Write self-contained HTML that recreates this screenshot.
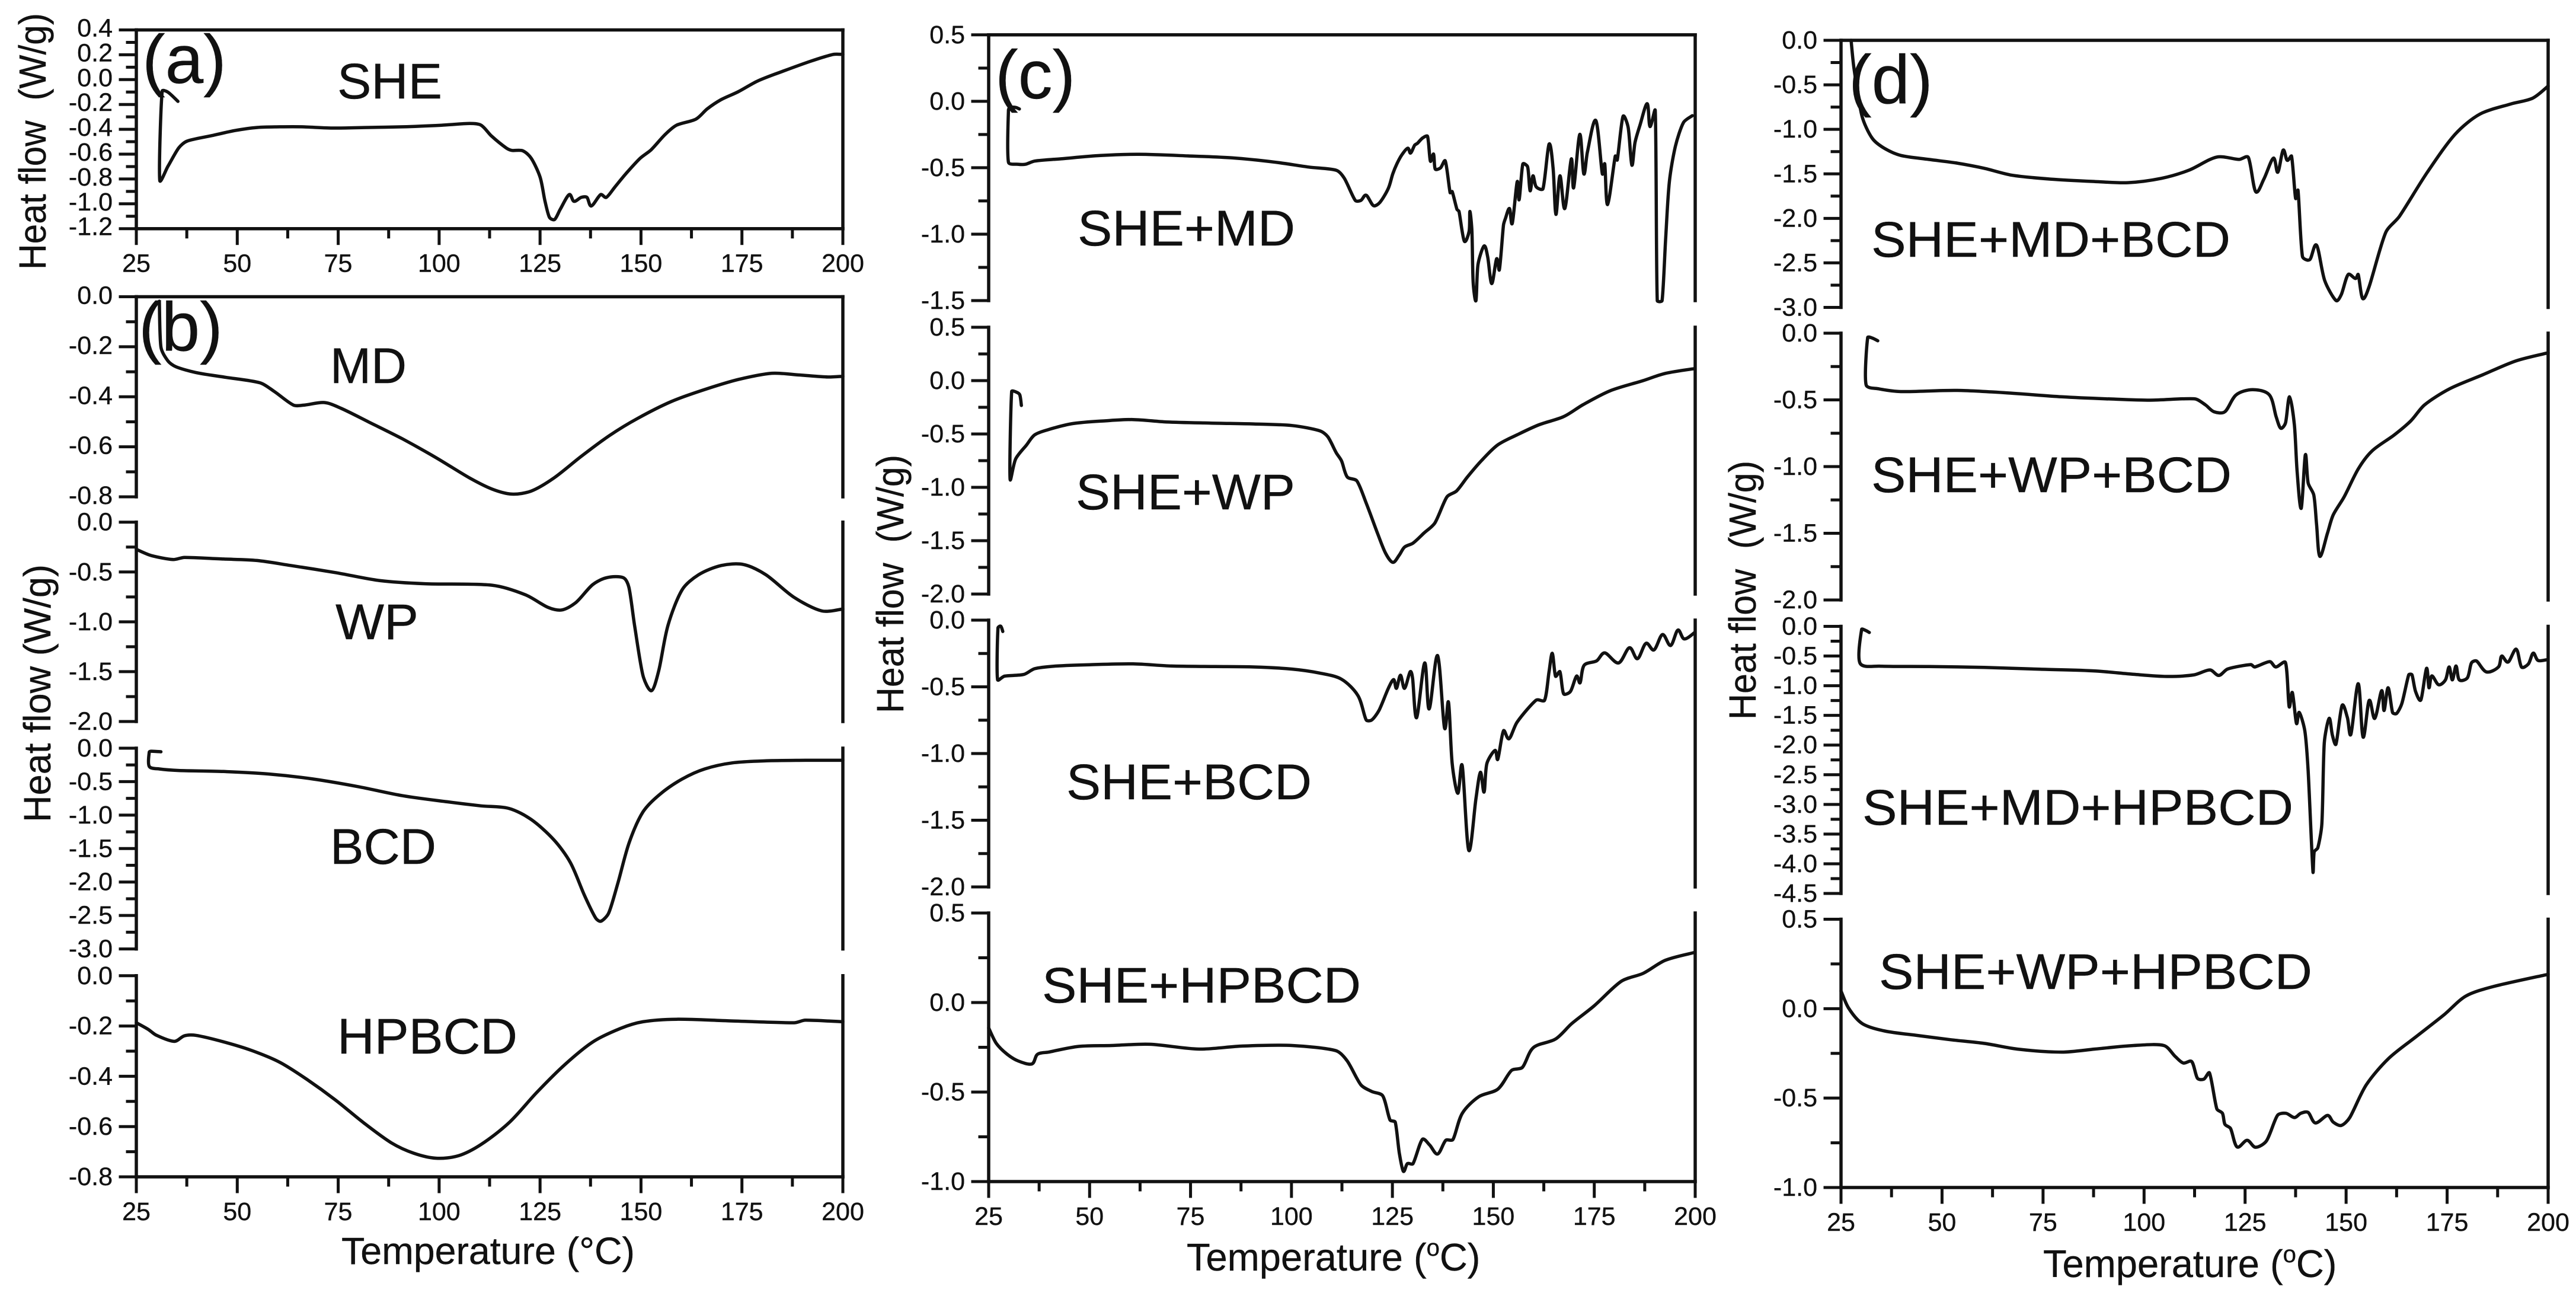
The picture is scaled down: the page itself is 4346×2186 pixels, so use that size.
<!DOCTYPE html>
<html lang="en">
<head>
<meta charset="utf-8">
<title>DSC heat flow thermograms</title>
<style>
html,body{margin:0;padding:0;background:#fff;}
svg{display:block;}
text{font-family:"Liberation Sans",Arial,sans-serif;fill:#111;stroke:#111;stroke-width:0.4px;}
.tick-label{font-size:43px;}
.sample{font-size:84px;}
.panel-letter{font-size:116px;}
.axis-title{font-size:64px;}
</style>
</head>
<body>
<svg id="figure" xmlns="http://www.w3.org/2000/svg" width="4346" height="2186" viewBox="0 0 4346 2186">
<rect x="0" y="0" width="4346" height="2186" fill="#ffffff"/>
<g id="plots"></g>

<text class="panel-letter" x="240" y="140">(a)</text>
<text class="panel-letter" x="234" y="591">(b)</text>
<text class="panel-letter" x="1679" y="166">(c)</text>
<text class="panel-letter" x="3119" y="174">(d)</text>

<text class="sample" x="569" y="166" textLength="177" lengthAdjust="spacingAndGlyphs">SHE</text>
<text class="sample" x="557" y="646" textLength="129" lengthAdjust="spacingAndGlyphs">MD</text>
<text class="sample" x="566" y="1078" textLength="140" lengthAdjust="spacingAndGlyphs">WP</text>
<text class="sample" x="557" y="1457" textLength="179" lengthAdjust="spacingAndGlyphs">BCD</text>
<text class="sample" x="569" y="1777" textLength="304" lengthAdjust="spacingAndGlyphs">HPBCD</text>
<text class="sample" x="1818" y="414" textLength="367" lengthAdjust="spacingAndGlyphs">SHE+MD</text>
<text class="sample" x="1815" y="859" textLength="370" lengthAdjust="spacingAndGlyphs">SHE+WP</text>
<text class="sample" x="1799" y="1348" textLength="414" lengthAdjust="spacingAndGlyphs">SHE+BCD</text>
<text class="sample" x="1758" y="1691" textLength="538" lengthAdjust="spacingAndGlyphs">SHE+HPBCD</text>
<text class="sample" x="3157" y="433" textLength="606" lengthAdjust="spacingAndGlyphs">SHE+MD+BCD</text>
<text class="sample" x="3157" y="830" textLength="608" lengthAdjust="spacingAndGlyphs">SHE+WP+BCD</text>
<text class="sample" x="3142" y="1391" textLength="727" lengthAdjust="spacingAndGlyphs">SHE+MD+HPBCD</text>
<text class="sample" x="3170" y="1668" textLength="731" lengthAdjust="spacingAndGlyphs">SHE+WP+HPBCD</text>

<text class="axis-title" transform="translate(77,455) rotate(-90)" textLength="433" lengthAdjust="spacingAndGlyphs" xml:space="preserve">Heat flow  (W/g)</text>
<text class="axis-title" transform="translate(85,1387) rotate(-90)" textLength="435" lengthAdjust="spacingAndGlyphs">Heat flow (W/g)</text>
<text class="axis-title" transform="translate(1524,1203) rotate(-90)" textLength="436" lengthAdjust="spacingAndGlyphs" xml:space="preserve">Heat flow  (W/g)</text>
<text class="axis-title" transform="translate(2962,1214) rotate(-90)" textLength="437" lengthAdjust="spacingAndGlyphs" xml:space="preserve">Heat flow  (W/g)</text>

<text class="axis-title" x="576" y="2132" textLength="495" lengthAdjust="spacingAndGlyphs">Temperature (°C)</text>
<text class="axis-title" x="2002" y="2143" style="font-size:65px">Temperature (<tspan font-size="40" dy="-25">o</tspan><tspan dy="25">C)</tspan></text>
<text class="axis-title" x="3447" y="2154" style="font-size:65px">Temperature (<tspan font-size="40" dy="-25">o</tspan><tspan dy="25">C)</tspan></text>
</svg>

<script>
const xTickLabels = [25, 50, 75, 100, 125, 150, 175, 200];

const yTicksShe = [0.4, 0.2, 0.0, -0.2, -0.4, -0.6, -0.8, -1.0, -1.2];
const yTicksMd = [0.0, -0.2, -0.4, -0.6, -0.8];
const yTicksWp = [0.0, -0.5, -1.0, -1.5, -2.0];
const yTicksBcd = [0.0, -0.5, -1.0, -1.5, -2.0, -2.5, -3.0];
const yTicksHpbcd = [0.0, -0.2, -0.4, -0.6, -0.8];
const yTicksSheMd = [0.5, 0.0, -0.5, -1.0, -1.5];
const yTicksSheWp = [0.5, 0.0, -0.5, -1.0, -1.5, -2.0];
const yTicksSheBcd = [0.0, -0.5, -1.0, -1.5, -2.0];
const yTicksSheHpbcd = [0.5, 0.0, -0.5, -1.0];
const yTicksSheMdBcd = [0.0, -0.5, -1.0, -1.5, -2.0, -2.5, -3.0];
const yTicksSheWpBcd = [0.0, -0.5, -1.0, -1.5, -2.0];
const yTicksSheMdHpbcd = [0.0, -0.5, -1.0, -1.5, -2.0, -2.5, -3.0, -3.5, -4.0, -4.5];
const yTicksSheWpHpbcd = [0.5, 0.0, -0.5, -1.0];

const sheTemp = [35.3,32.8,31.4,30.8,32.8,35.5,37.6,43.8,49.4,55,60.5,66,74,82.6,91,100.6,107.6,110.4,113,116.6,118,120.7,122.8,125,126.2,127.3,128.6,130,132.2,133.4,135.2,136.6,137.7,140,141.4,143.5,146.3,149.8,152.5,156,158.8,163.6,166.4,169.8,174,178.9,185,192,197.6,200];
const sheFlow = [-.175,-.10,-.093,-.81,-.70,-.55,-.495,-.45,-.41,-.385,-.38,-.38,-.39,-.385,-.38,-.367,-.353,-.367,-.455,-.55,-.57,-.573,-.633,-.784,-.975,-1.107,-1.126,-1.044,-.926,-.98,-.948,-.948,-1.017,-.926,-.948,-.866,-.756,-.633,-.565,-.441,-.367,-.318,-.236,-.162,-.099,-.011,.066,.148,.203,.203];

const mdTemp = [30.7,31.1,32.8,34.8,39.7,46.6,55.6,59.1,63.9,66.7,71.6,75.7,82.6,91,99.3,107.6,113.1,118,122.8,128.4,135.3,142.2,149.1,157.5,165.8,174.1,182.4,189.3,196.3,200];
const mdFlow = [-.018,-.201,-.256,-.28,-.303,-.321,-.344,-.378,-.433,-.433,-.423,-.446,-.501,-.569,-.644,-.725,-.769,-.789,-.777,-.725,-.637,-.555,-.487,-.419,-.371,-.331,-.306,-.313,-.321,-.318];

const wpTemp = [25,28.6,34.1,36.9,46.6,54.9,63.2,74.3,85.4,96.5,113.1,121.4,127,130.4,133.9,138,141.5,145.6,147,148.4,150.5,152.6,154.4,156.7,160.2,164.3,169.9,175.4,180.9,187.9,194.8,200];
const wpFlow = [-.273,-.334,-.375,-.354,-.37,-.385,-.435,-.506,-.587,-.618,-.633,-.729,-.856,-.881,-.805,-.628,-.557,-.557,-.653,-1.033,-1.539,-1.691,-1.489,-1.033,-.678,-.527,-.435,-.425,-.527,-.754,-.891,-.871];

const bcdTemp = [31.1,28.6,28.2,28.2,30.7,35.5,46.6,57.7,68.8,79.9,91,102,110.4,117.3,122.8,128.4,132.5,136,138.8,140.1,142,144.3,147.1,150.5,154.7,160.2,165.8,172.7,181,190.7,200];
const bcdFlow = [-.053,-.045,-.06,-.272,-.31,-.333,-.348,-.385,-.461,-.574,-.711,-.801,-.862,-.9,-1.066,-1.368,-1.708,-2.2,-2.54,-2.585,-2.464,-2.011,-1.406,-.952,-.688,-.461,-.31,-.219,-.189,-.181,-.181];

const hpbcdTemp = [25,27.9,30,34.4,36.9,39.7,46.6,53.5,60.5,67.4,74.3,81.3,88.2,93.7,99.3,104.8,110.4,117.3,124.2,131.1,138.1,145,150.5,158.8,171.3,187.9,190.7,200];
const hpbcdFlow = [-.187,-.213,-.237,-.261,-.239,-.237,-.263,-.297,-.344,-.414,-.494,-.585,-.665,-.706,-.726,-.716,-.671,-.585,-.464,-.354,-.263,-.209,-.183,-.173,-.179,-.187,-.177,-.183];

const sheMdTemp = [32.6,31.7,30.3,29.9,29.9,32.3,34.1,36.4,43.2,52.7,62.2,74.4,85.3,96.1,104.3,111.1,113.1,115.8,117.2,118.5,120.3,121.9,124,125.1,126.1,127.3,128.8,129.5,130.5,131.2,132.5,133.7,134.4,135.2,135.6,136.9,138.1,139.3,139.8,141,141.5,142.8,144,144.2,144.7,145,145.7,146.2,147.7,148.6,149.6,150.8,151.5,152.5,153,154,154.7,155.9,156.4,157.3,158.5,159.1,159.8,160.6,162.3,163.8,164.8,165.5,166.5,167.7,169.3,169.9,171.4,172.4,173.3,175.4,177,177.6,178.3,180.2,180.7,182.1,183.4,184.3,185.1,186.3,188.1,188.8,190.1,190.6,191.8,192.7,193.6,195.1,197.1,199.3];
const sheMdFlow = [-.058,-.046,-.046,-.067,-.459,-.474,-.474,-.45,-.432,-.408,-.399,-.411,-.426,-.459,-.495,-.519,-.58,-.746,-.746,-.707,-.785,-.761,-.655,-.546,-.472,-.405,-.353,-.39,-.331,-.316,-.276,-.264,-.45,-.398,-.509,-.502,-.45,-.688,-.68,-.814,-.829,-1.052,-.978,-.829,-.978,-1.364,-1.5,-1.23,-1.089,-1.171,-1.372,-1.186,-1.268,-.933,-.881,-.807,-.918,-.606,-.74,-.472,-.494,-.673,-.561,-.643,-.658,-.323,-.502,-.851,-.561,-.807,-.435,-.65,-.249,-.546,-.383,-.145,-.546,-.472,-.777,-.413,-.442,-.115,-.197,-.48,-.309,-.182,-.018,-.19,-.07,-1.5,-1.5,-1.022,-.606,-.338,-.16,-.108];

const sheWpTemp = [33.1,32.7,31.7,30.7,30.3,31.7,34.4,36.4,39.8,45.9,54.1,60.8,69,79.8,90.7,100.2,107,109,111.1,112.4,113.8,116.2,118.5,121.3,123.3,125.1,126.7,128,130.1,132.8,135.5,138.5,140.9,143.6,147,151.1,155.9,161.3,167.4,172.2,179,187.1,192.6,199.9];
const sheWpFlow = [-.233,-.132,-.105,-.102,-.921,-.733,-.602,-.508,-.459,-.402,-.376,-.365,-.387,-.398,-.406,-.421,-.47,-.526,-.677,-.752,-.902,-.94,-1.147,-1.429,-1.617,-1.703,-1.635,-1.56,-1.523,-1.429,-1.335,-1.09,-1.034,-.902,-.752,-.602,-.508,-.414,-.338,-.226,-.094,0,.068,.113];

const sheBcdTemp = [28.5,28,27.3,27.2,28.9,33.7,36.4,41.8,50,60.8,70.3,81.2,90.7,100.2,107,112.4,116.5,118.5,119.9,121.7,124,125.3,126,127,128,129.4,130,131,133,134.1,136.2,137.9,138.9,139.8,141.2,142.3,143.9,145.7,146.8,147.7,148.4,150.4,151.1,152.5,153.9,155.9,160.6,162.7,163.8,164.6,165.4,166.5,167.4,169.1,170.6,171.5,172.5,175.6,177.6,181,183.7,185.7,187.8,189.8,191.9,193.9,195.7,197.3,199.9];
const sheBcdFlow = [-.085,-.046,-.059,-.446,-.42,-.407,-.364,-.344,-.334,-.328,-.344,-.348,-.351,-.367,-.397,-.443,-.567,-.748,-.748,-.675,-.511,-.446,-.511,-.413,-.511,-.387,-.436,-.731,-.321,-.666,-.266,-.807,-.616,-1.075,-1.298,-1.092,-1.725,-1.338,-1.141,-1.289,-1.075,-.977,-1.043,-.83,-.889,-.764,-.6,-.6,-.387,-.249,-.42,-.387,-.551,-.534,-.42,-.469,-.338,-.305,-.246,-.321,-.207,-.289,-.174,-.223,-.108,-.19,-.075,-.141,-.092];

const sheHpbcdTemp = [25,26.9,29.6,32.3,35.7,37.1,39.8,47.3,55.4,64.9,77.1,87.9,100.2,111,113.8,117.2,119.9,122.6,124.4,125.7,126.7,127.7,128.7,130.1,132.4,134.2,136.2,138.2,140,142.3,146.4,151.1,154.5,157.2,159.9,165.4,169.4,174.9,181.7,187.1,192.6,199.9];
const sheHpbcdFlow = [-.142,-.228,-.289,-.326,-.343,-.289,-.277,-.245,-.24,-.233,-.26,-.243,-.24,-.269,-.326,-.46,-.497,-.521,-.656,-.668,-.839,-.942,-.9,-.9,-.765,-.795,-.846,-.77,-.765,-.619,-.526,-.484,-.379,-.362,-.252,-.204,-.118,-.02,.119,.163,.236,.28];

const sheMdBcdTemp = [27.5,28.2,30.2,32.7,35.7,39.8,46.7,53.5,60.4,67.2,76.8,87.8,96,104.3,111.1,118,123.5,125.8,127.6,129.6,132,133.1,134.4,135.4,136.5,137.5,138.1,139.2,141,142.7,144.7,147.5,148.8,150.5,152.3,153,154.1,155.7,159.8,163.2,170.1,177,183.1,190.7,196.2,200];
const sheMdBcdFlow = [0,-.311,-.851,-1.099,-1.212,-1.293,-1.338,-1.378,-1.437,-1.514,-1.559,-1.586,-1.599,-1.55,-1.459,-1.311,-1.338,-1.315,-1.698,-1.563,-1.324,-1.482,-1.234,-1.347,-1.302,-1.775,-1.685,-2.428,-2.464,-2.302,-2.698,-2.923,-2.856,-2.631,-2.676,-2.631,-2.901,-2.766,-2.158,-1.977,-1.482,-1.054,-.829,-.716,-.649,-.514];

const sheWpBcdTemp = [34.1,32.7,31.6,31.2,34.3,39.8,53.5,65.9,79.6,90.6,101.5,112.5,115.2,117.3,120,122.8,126.9,131,132.7,133.8,135,136,137.2,137.9,138.9,139.9,140.6,142,142.7,143.5,145.4,146.8,149.5,153,156.4,161.9,166,169.4,175.6,183.8,192.1,200];
const sheWpBcdFlow = [-.057,-.036,-.033,-.387,-.417,-.438,-.429,-.447,-.477,-.492,-.502,-.492,-.538,-.589,-.589,-.462,-.423,-.462,-.628,-.712,-.673,-.477,-.688,-1.048,-1.312,-.913,-1.123,-1.213,-1.438,-1.673,-1.498,-1.363,-1.228,-1.018,-.883,-.763,-.658,-.538,-.417,-.312,-.207,-.147];

const sheMdHpbcdTemp = [32,31,30.1,29.7,34.5,46.8,60.5,74.2,87.9,97.5,105.6,112.3,116.3,118.5,120.7,126.4,127.4,131.1,132.6,135,135.9,136.7,137.7,138.4,139.8,140.6,141.8,142.1,143,144,144.6,145.8,146.6,147.5,149,150.3,151.2,153,154.2,155.7,157.1,158.8,159.4,160.4,161.5,162.5,163.8,165.5,166.3,167.2,168.5,169.9,170.5,171.2,172.9,174.6,175.5,176.3,177.2,178,180,181,182.3,184.7,187.7,188.5,190.1,192.1,193.4,195.1,196.3,197.5,199.7];
const sheMdHpbcdFlow = [-.103,-.066,-.052,-.619,-.67,-.677,-.692,-.722,-.751,-.808,-.844,-.818,-.734,-.827,-.718,-.644,-.684,-.594,-.684,-.611,-1.35,-1.117,-1.633,-1.45,-1.767,-2.433,-4.13,-3.8,-3.73,-3.33,-1.966,-1.55,-1.833,-1.983,-1.334,-1.533,-1.816,-.967,-1.866,-1.25,-1.55,-1.084,-1.417,-1.034,-1.45,-1.467,-1.3,-.817,-.817,-1.1,-1.24,-.708,-1.034,-.834,-.984,-.901,-.684,-.901,-.668,-.901,-.868,-.618,-.584,-.767,-.684,-.501,-.601,-.385,-.684,-.634,-.451,-.574,-.561];

const sheWpHpbcdTemp = [25,26.9,30.3,35.8,44,52.2,60.4,68.6,79.6,87.8,97.4,104.9,107.7,109.7,111.8,113.2,114.8,116.2,118,119.4,120,121.4,123,125.5,127.6,130.3,133,135.1,137.2,138.8,140.6,142.4,145.4,146.8,148.8,150.9,155,160.5,167.3,174.2,179.6,186.5,200];
const sheWpHpbcdFlow = [.099,.002,-.084,-.125,-.15,-.174,-.194,-.226,-.243,-.226,-.206,-.206,-.267,-.304,-.296,-.389,-.394,-.36,-.56,-.585,-.646,-.67,-.773,-.736,-.775,-.739,-.597,-.585,-.609,-.585,-.58,-.639,-.597,-.634,-.653,-.609,-.426,-.279,-.157,-.035,.07,.124,.192];

const panels = [
  { id: 'she', temps: sheTemp, flows: sheFlow, yTicks: yTicksShe, left: 230, right: 1422, top: 50.5, bottom: 385.7, hasTop: true, hasXAxis: true, labelDy: 11 },
  { id: 'md', temps: mdTemp, flows: mdFlow, yTicks: yTicksMd, left: 230, right: 1422, top: 500.5, bottom: 838, hasTop: true, hasXAxis: false, labelDy: 12 },
  { id: 'wp', temps: wpTemp, flows: wpFlow, yTicks: yTicksWp, left: 230, right: 1422, top: 880.7, bottom: 1217, hasTop: false, hasXAxis: false, labelDy: 14 },
  { id: 'bcd', temps: bcdTemp, flows: bcdFlow, yTicks: yTicksBcd, left: 230, right: 1422, top: 1262, bottom: 1600.6, hasTop: false, hasXAxis: false, labelDy: 14 },
  { id: 'hpbcd', temps: hpbcdTemp, flows: hpbcdFlow, yTicks: yTicksHpbcd, left: 230, right: 1422, top: 1645.8, bottom: 1985, hasTop: false, hasXAxis: true, labelDy: 14 },
  { id: 'she-md', temps: sheMdTemp, flows: sheMdFlow, yTicks: yTicksSheMd, left: 1668, right: 2860, top: 58.8, bottom: 507, hasTop: true, hasXAxis: false, labelDy: 14 },
  { id: 'she-wp', temps: sheWpTemp, flows: sheWpFlow, yTicks: yTicksSheWp, left: 1668, right: 2860, top: 552, bottom: 1002, hasTop: false, hasXAxis: false, labelDy: 14 },
  { id: 'she-bcd', temps: sheBcdTemp, flows: sheBcdFlow, yTicks: yTicksSheBcd, left: 1668, right: 2860, top: 1046, bottom: 1496, hasTop: false, hasXAxis: false, labelDy: 14 },
  { id: 'she-hpbcd', temps: sheHpbcdTemp, flows: sheHpbcdFlow, yTicks: yTicksSheHpbcd, left: 1668, right: 2860, top: 1540, bottom: 1993, hasTop: false, hasXAxis: true, labelDy: 14 },
  { id: 'she-md-bcd', temps: sheMdBcdTemp, flows: sheMdBcdFlow, yTicks: yTicksSheMdBcd, left: 3106, right: 4299, top: 68, bottom: 518.5, hasTop: true, hasXAxis: false, labelDy: 14 },
  { id: 'she-wp-bcd', temps: sheWpBcdTemp, flows: sheWpBcdFlow, yTicks: yTicksSheWpBcd, left: 3106, right: 4299, top: 562, bottom: 1012, hasTop: false, hasXAxis: false, labelDy: 14 },
  { id: 'she-md-hpbcd', temps: sheMdHpbcdTemp, flows: sheMdHpbcdFlow, yTicks: yTicksSheMdHpbcd, left: 3106, right: 4299, top: 1056.5, bottom: 1507, hasTop: false, hasXAxis: false, labelDy: 14 },
  { id: 'she-wp-hpbcd', temps: sheWpHpbcdTemp, flows: sheWpHpbcdFlow, yTicks: yTicksSheWpHpbcd, left: 3106, right: 4299, top: 1550.5, bottom: 2003, hasTop: false, hasXAxis: true, labelDy: 14 }
];

const SVG_NS = 'http://www.w3.org/2000/svg';
const plotsLayer = document.getElementById('plots');

function xScale(panel, temp) {
  const lo = xTickLabels[0];
  const hi = xTickLabels[xTickLabels.length - 1];
  return panel.left + (temp - lo) / (hi - lo) * (panel.right - panel.left);
}

function yScale(panel, flow) {
  const hi = panel.yTicks[0];
  const lo = panel.yTicks[panel.yTicks.length - 1];
  return panel.top + (hi - flow) / (hi - lo) * (panel.bottom - panel.top);
}

function strokeLine(parent, x1, y1, x2, y2, width) {
  const line = document.createElementNS(SVG_NS, 'line');
  line.setAttribute('x1', x1);
  line.setAttribute('y1', y1);
  line.setAttribute('x2', x2);
  line.setAttribute('y2', y2);
  line.setAttribute('stroke', '#111');
  line.setAttribute('stroke-width', width);
  line.setAttribute('stroke-linecap', 'square');
  parent.appendChild(line);
  return line;
}

function tickText(parent, x, y, anchor, str) {
  const t = document.createElementNS(SVG_NS, 'text');
  t.setAttribute('class', 'tick-label');
  t.setAttribute('x', x);
  t.setAttribute('y', y);
  t.setAttribute('text-anchor', anchor);
  t.textContent = str;
  parent.appendChild(t);
  return t;
}

function smoothPath(pts) {
  let d = 'M' + pts[0][0].toFixed(1) + ' ' + pts[0][1].toFixed(1);
  function control(a, b, c, sign) {
    const tx = c[0] - a[0];
    const ty = c[1] - a[1];
    const tLen = Math.hypot(tx, ty) || 1;
    const seg = sign > 0 ? Math.hypot(c[0] - b[0], c[1] - b[1]) : Math.hypot(b[0] - a[0], b[1] - a[1]);
    const mag = Math.min(tLen / 6, seg * 0.3);
    return [b[0] + sign * tx / tLen * mag, b[1] + sign * ty / tLen * mag];
  }
  for (let i = 0; i < pts.length - 1; i++) {
    const p0 = pts[Math.max(i - 1, 0)];
    const p1 = pts[i];
    const p2 = pts[i + 1];
    const p3 = pts[Math.min(i + 2, pts.length - 1)];
    const c1 = control(p0, p1, p2, 1);
    const c2 = control(p1, p2, p3, -1);
    d += 'C' + c1[0].toFixed(1) + ' ' + c1[1].toFixed(1) + ' ' + c2[0].toFixed(1) + ' ' + c2[1].toFixed(1) + ' ' + p2[0].toFixed(1) + ' ' + p2[1].toFixed(1);
  }
  return d;
}

panels.forEach(function (panel) {
  const group = document.createElementNS(SVG_NS, 'g');
  
  
  plotsLayer.appendChild(group);

  const leftAxis = strokeLine(group, panel.left, panel.top, panel.left, panel.bottom, 5.5);
  
  

  const rightAxis = strokeLine(group, panel.right, panel.top, panel.right, panel.bottom, 5.5);
  
  

  if (panel.hasTop) {
    const topAxis = strokeLine(group, panel.left, panel.top, panel.right, panel.top, 5.5);
    
    
  }

  panel.yTicks.forEach(function (value, i) {
    const yPos = yScale(panel, value);
    const major = strokeLine(group, panel.left - 27, yPos, panel.left, yPos, 5);
    
    

    const label = tickText(group, panel.left - 40, yPos + panel.labelDy, 'end', value.toFixed(1));
    
    

    if (i < panel.yTicks.length - 1) {
      const mid = yScale(panel, (value + panel.yTicks[i + 1]) / 2);
      const minor = strokeLine(group, panel.left - 15, mid, panel.left, mid, 5);
      
      
    }
  });

  if (panel.hasXAxis) {
    const bottomAxis = strokeLine(group, panel.left, panel.bottom, panel.right, panel.bottom, 5.5);
    
    

    xTickLabels.forEach(function (value, i) {
      const xPos = xScale(panel, value);
      const major = strokeLine(group, xPos, panel.bottom, xPos, panel.bottom + 25, 5);
      
      

      const label = tickText(group, xPos, panel.bottom + 73, 'middle', String(value));
      
      

      if (i < xTickLabels.length - 1) {
        const mid = xScale(panel, (value + xTickLabels[i + 1]) / 2);
        const minor = strokeLine(group, mid, panel.bottom, mid, panel.bottom + 14, 5);
        
        
      }
    });
  }

  const pts = panel.temps.map(function (temp, i) {
    return [xScale(panel, temp), yScale(panel, panel.flows[i])];
  });
  const curve = document.createElementNS(SVG_NS, 'path');
  curve.setAttribute('d', smoothPath(pts));
  curve.setAttribute('fill', 'none');
  curve.setAttribute('stroke', '#111');
  curve.setAttribute('stroke-width', '5.5');
  curve.setAttribute('stroke-linejoin', 'round');
  curve.setAttribute('stroke-linecap', 'round');
  
  
  group.appendChild(curve);
});
</script>
</body>
</html>
